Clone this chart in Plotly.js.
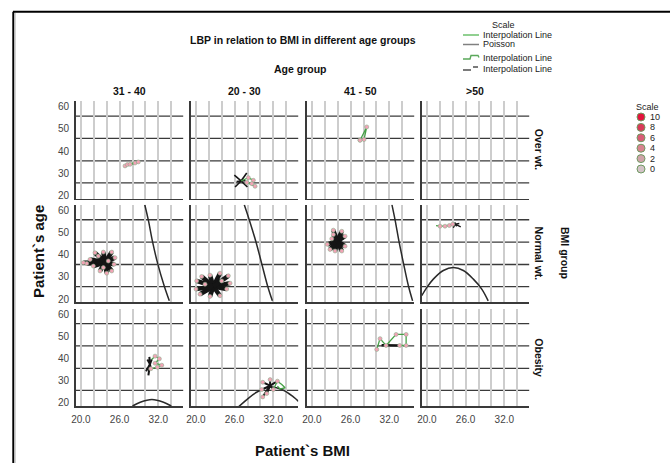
<!DOCTYPE html>
<html><head><meta charset="utf-8">
<script src="https://cdn.plot.ly/plotly-3.0.1.min.js"></script>
<style>html,body{margin:0;padding:0;background:#fff}#chart{width:670px;height:463px}</style>
</head><body><div id="chart"></div>
<script>
// ---------- categories & ticks ----------
const ageGroups = ['31 - 40', '20 - 30', '41 - 50', '>50'];
const bmiGroups = ['Over wt.', 'Normal wt.', 'Obesity'];
const bmiTickVals = [20, 26, 32];
const bmiTickText = ['20.0', '26.0', '32.0'];
const bmiGridVals = [20, 22, 24, 26, 28, 30, 32, 34];
const ageTickVals = [20, 30, 40, 50, 60];
const ageGridVals = [25.6, 35.6, 45.7, 55.8];
const scaleLabels = ['10', '8', '6', '4', '2', '0'];
const lineLegendNames = ['Interpolation Line', 'Poisson', 'Interpolation Line', 'Interpolation Line'];

// ---------- Over wt. ----------
const ow3140Bmi = [26.84, 27.2, 27.62, 28.39, 28.9];
const ow3140Age = [33.3, 33.9, 34.0, 34.6, 35.1];
const ow2030Bmi = [27.0, 25.96, 27.88, 26.07, 27.98, 26.3, 27.7];
const ow2030Age = [26.5, 29.1, 30.1, 23.8, 23.8, 26.2, 26.6];
const ow2030GreenBmi = [27.0, 28.13, 28.9, 28.66, 27.9, 29.17];
const ow2030GreenAge = [26.5, 28.0, 26.8, 25.3, 25.8, 24.1];
const ow4150Bmi = [27.46, 28.5, 28.08, 27.46];
const ow4150Age = [44.9, 50.9, 45.2, 44.9];

// ---------- Normal wt. ----------
const nw3140Bmi = [23.74, 22.19, 23.48, 24.78, 25.29, 25.14, 24.78, 24.0, 22.97, 21.93, 20.9, 20.38, 21.42, 22.7, 24.25, 23.48];
const nw3140Age = [36.6, 40.9, 41.2, 41.2, 38.7, 35.7, 32.7, 31.7, 32.7, 34.9, 36.1, 36.4, 37.9, 39.4, 37.2, 34.2];
const nw2030Bmi = [22.7, 20.13, 20.9, 22.19, 23.74, 25.03, 25.29, 24.78, 23.74, 22.19, 20.64, 20.02, 21.42, 24.0];
const nw2030Age = [25.7, 28.2, 30.2, 30.8, 31.7, 30.5, 27.2, 24.5, 21.5, 21.2, 22.2, 24.5, 26.7, 28.2];
const nw4150Bmi = [23.95, 23.32, 24.63, 25.14, 25.14, 24.63, 23.59, 22.81, 22.39, 23.08, 23.32];
const nw4150Age = [46.1, 51.1, 50.6, 48.4, 43.9, 41.7, 41.7, 42.4, 44.7, 47.2, 49.1];
const nw50Bmi = [24.36, 23.48, 24.0, 24.63, 25.03, 25.25, 24.1, 24.36];
const nw50Age = [53.8, 53.2, 53.8, 52.9, 54.1, 52.6, 52.2, 54.7];
const nw50GreenBmi = [21.42, 22.04, 22.81, 23.48, 24.0];
const nw50GreenAge = [53.2, 52.9, 52.9, 53.2, 53.8];

// ---------- Obesity ----------
const ob3140Bmi = [30.7, 30.61, 30.3, 30.98, 30.1, 30.46, 30.83];
const ob3140Age = [37.5, 40.8, 39.6, 39.6, 34.3, 32.4, 35.4];
const ob3140GreenBmi = [30.98, 31.49, 32.16, 31.49, 32.53, 31.85, 30.83];
const ob3140GreenAge = [39.6, 41.1, 39.9, 37.9, 37.0, 36.1, 35.4];
const ob2030Bmi = [31.5, 30.36, 31.5, 32.63, 30.98, 30.36, 30.2, 32.0];
const ob2030Age = [27.8, 29.3, 30.5, 29.8, 24.2, 22.7, 26.0, 26.0];
const ob2030GreenBmi = [32.0, 32.63, 33.31, 33.82, 33.04, 32.63];
const ob2030GreenAge = [26.0, 29.8, 28.3, 26.8, 26.3, 27.5];
const ob4150Bmi = [30.05, 30.56, 31.49, 33.04, 34.6, 34.6, 33.6];
const ob4150Age = [44.1, 49.0, 45.9, 50.9, 50.9, 45.9, 45.9];
const ob4150BlackBmi = [30.8, 33.6];
const ob4150BlackAge = [46.0, 45.9];

// ---------- Poisson fit curves ----------
const pNw3140Bmi = [29.9, 30.46, 31.1, 31.9, 32.9, 33.7];
const pNw2030Bmi = [27.5, 28.3, 29.3, 30.2, 31.1, 31.85];
const pNw4150Bmi = [32.4, 32.9, 33.5, 34.2, 34.95, 35.6];
const pNwDescAge = [62.6, 55.5, 45.9, 36.0, 26.0, 19.2];
const pNw50Bmi = [19.2, 19.98, 21.0, 22.55, 24.1, 25.65, 27.2, 28.5, 29.5];
const pNw50Age = [21.5, 25.2, 29.0, 32.9, 34.2, 32.9, 29.0, 24.5, 19.2];
const pOb3140Bmi = [28.0, 29.2, 31.0, 32.8, 34.0];
const pOb3140Age = [18.6, 20.3, 21.5, 20.3, 18.6];
const pOb2030Bmi = [26.6, 27.9, 29.4, 31.5, 33.55, 35.1, 35.9];
const pOb2030Age = [18.2, 21.5, 24.8, 27.2, 25.7, 22.7, 20.7];

// ---------- styles ----------
const W = 670, H = 463;
const FONT = 'Liberation Sans, Arial, sans-serif';
const colLeft = [75.7, 190.7, 306.7, 421.7], panelW = 107.5;
const rowTop = [101, 204.7, 308.5], panelH = 97.7;
const GREEN = '#45a045', BLACK = '#151515', PINK = '#f2a3b6';
const scaleColors = ['#e3133d', '#d93a59', '#d95c76', '#d8838f', '#cfa3a9', '#d3c3c7'];
const fx = v => v / W, fy = v => 1 - v / H;

const panels = [
  {r:0, c:0, green:[ow3140Bmi, ow3140Age], pts:[ow3140Bmi, ow3140Age], gw:2.2},
  {r:0, c:1, star:[ow2030Bmi, ow2030Age], green:[ow2030GreenBmi, ow2030GreenAge], pts:[ow2030GreenBmi, ow2030GreenAge], sw:1.6},
  {r:0, c:2, green:[ow4150Bmi, ow4150Age], pts:[ow4150Bmi, ow4150Age]},
  {r:0, c:3},
  {r:1, c:0, star:[nw3140Bmi, nw3140Age], pts:[nw3140Bmi, nw3140Age], poisson:[pNw3140Bmi, pNwDescAge], sw:4.5},
  {r:1, c:1, star:[nw2030Bmi, nw2030Age], pts:[nw2030Bmi, nw2030Age], poisson:[pNw2030Bmi, pNwDescAge], sw:4.5},
  {r:1, c:2, star:[nw4150Bmi, nw4150Age], pts:[nw4150Bmi, nw4150Age], poisson:[pNw4150Bmi, pNwDescAge], sw:4.5},
  {r:1, c:3, star:[nw50Bmi, nw50Age], green:[nw50GreenBmi, nw50GreenAge], pts:[nw50GreenBmi, nw50GreenAge], poisson:[pNw50Bmi, pNw50Age], sw:1.4},
  {r:2, c:0, star:[ob3140Bmi, ob3140Age], green:[ob3140GreenBmi, ob3140GreenAge], pts:[ob3140GreenBmi, ob3140GreenAge], poisson:[pOb3140Bmi, pOb3140Age], sw:2},
  {r:2, c:1, star:[ob2030Bmi, ob2030Age], green:[ob2030GreenBmi, ob2030GreenAge], pts:[ob2030Bmi, ob2030Age], poisson:[pOb2030Bmi, pOb2030Age], sw:2},
  {r:2, c:2, green:[ob4150Bmi, ob4150Age], black:[ob4150BlackBmi, ob4150BlackAge], pts:[ob4150Bmi, ob4150Age]},
  {r:2, c:3}
];

const traces = [];
const layout = {
  width: W, height: H, margin: {l:0, r:0, t:0, b:0},
  paper_bgcolor: '#fff', plot_bgcolor: 'rgba(0,0,0,0)',
  showlegend: false, font: {family: FONT, color: '#222'},
  annotations: [], shapes: []
};

panels.forEach((p, i) => {
  const n = i + 1, xs = 'x' + n, ys = 'y' + n;
  const xk = 'xaxis' + (n === 1 ? '' : n), yk = 'yaxis' + (n === 1 ? '' : n);
  layout[xk] = {
    domain: [fx(colLeft[p.c]), fx(colLeft[p.c] + panelW)], anchor: ys,
    range: [19.2, 35.85], showline: true, linecolor: '#3a3a3a', linewidth: 1.5,
    zeroline: false, tickmode: 'array', tickvals: bmiTickVals, ticktext: bmiTickText,
    showgrid: true, gridcolor: '#cdcdcd', gridwidth: 2,
    showticklabels: p.r === 2, ticks: '', ticklabelstandoff: 3,
    tickfont: {size: 10, color: '#444', family: FONT},
    minor: {tickmode: 'array', tickvals: bmiGridVals, showgrid: true, gridcolor: '#cdcdcd', gridwidth: 2, ticks: ''},
    fixedrange: true
  };
  layout[yk] = {
    domain: [fy(rowTop[p.r] + panelH), fy(rowTop[p.r])], anchor: xs,
    range: [18.5, 62.6], showline: true, linecolor: '#3a3a3a', linewidth: 1.5,
    zeroline: false, tickmode: 'array', tickvals: ageTickVals, showgrid: false,
    showticklabels: p.c === 0, ticks: '', ticklabelstandoff: 3,
    tickfont: {size: 10, color: '#444', family: FONT},
    fixedrange: true
  };
  // dark horizontal reference lines on the age axis
  ageGridVals.forEach(v => layout.shapes.push({type:'line', layer:'below',
    xref: xs + ' domain', x0: 0, x1: 1, yref: ys, y0: v, y1: v,
    line: {color:'#3a3a3a', width:1.3}}));
  // empty anchor trace so every panel is drawn
  traces.push({type:'scatter', mode:'markers', xaxis:xs, yaxis:ys, x:[null], y:[null], hoverinfo:'skip'});
  if (p.poisson) traces.push({type:'scatter', mode:'lines', xaxis:xs, yaxis:ys,
    x:p.poisson[0], y:p.poisson[1], line:{color:'#2a2a2a', width:1.5, shape:'spline'}, hoverinfo:'skip'});
  if (p.star) {
    const [b, a] = p.star, sx = [], sy = [];
    for (let k = 1; k < b.length; k++) { sx.push(b[0], b[k], null); sy.push(a[0], a[k], null); }
    traces.push({type:'scatter', mode:'lines', xaxis:xs, yaxis:ys, x:sx, y:sy,
      line:{color:BLACK, width:p.sw || 2}, hoverinfo:'skip'});
  }
  if (p.black) traces.push({type:'scatter', mode:'lines', xaxis:xs, yaxis:ys,
    x:p.black[0], y:p.black[1], line:{color:BLACK, width:2.5}, hoverinfo:'skip'});
  if (p.green) traces.push({type:'scatter', mode:'lines', xaxis:xs, yaxis:ys,
    x:p.green[0], y:p.green[1], line:{color:GREEN, width:p.gw || 1.3}, hoverinfo:'skip'});
  if (p.pts) traces.push({type:'scatter', mode:'markers', xaxis:xs, yaxis:ys,
    x:p.pts[0].slice(p.star === undefined ? 0 : 1), y:p.pts[1].slice(p.star === undefined ? 0 : 1),
    marker:{size:4, color:PINK, line:{color:'#8fb08f', width:0.6}}, hoverinfo:'skip'});
});

const A = (text, x, y, o) => layout.annotations.push(Object.assign({
  text, x: fx(x), y: fy(y), xref:'paper', yref:'paper', showarrow:false,
  xanchor:'center', yanchor:'middle', font:{family:FONT, size:10.5, color:'#111', weight:'bold'}
}, o || {}));

A('LBP in relation to BMI in different age groups', 303, 40);
A('Age group', 300, 69);
ageGroups.forEach((g, c) => A(g, colLeft[c] + panelW / 2, 91));
bmiGroups.forEach((g, r) => A(g, 539, rowTop[r] + panelH / 2, {textangle: 90}));
A('BMI group', 565, 253, {textangle: 90});
A('Patient`s age', 38, 252, {textangle: -90, font:{family:FONT, size:15, color:'#111', weight:'bold'}});
A('Patient`s BMI', 302, 450, {font:{family:FONT, size:15, color:'#111', weight:'bold'}});

// top legend (line styles)
const legFont = {family:FONT, size:9, color:'#222'};
A('Scale', 503, 25, {font: legFont});
const legY = [35, 44.5, 57.5, 69];
lineLegendNames.forEach((t, k) => A(t, 481, legY[k], {xanchor:'left', font: legFont}));
const S = (path, color, width) => layout.shapes.push({type:'path', xref:'paper', yref:'paper', path, line:{color, width}});
const P = pts => 'M' + pts.map(q => fx(q[0]) + ',' + fy(q[1])).join(' L');
S(P([[463, 35], [479, 35]]), '#6cc06c', 1.5);
S(P([[463, 44.5], [479, 44.5]]), '#808080', 1.5);
S(P([[463, 59], [470, 59], [471, 55.5], [478, 55.5], [479, 57.5]]), '#5aa85a', 1.4);
S(P([[463, 70], [471, 70]]), '#333', 1.3);
S(P([[473, 67], [478, 67]]), '#333', 1.3);

// right legend (scale colours)
A('Scale', 647, 107, {font: legFont});
scaleLabels.forEach((t, k) => {
  const cy = 117 + k * 10.4;
  layout.shapes.push({type:'circle', xref:'paper', yref:'paper',
    x0: fx(637), x1: fx(645), y0: fy(cy + 4), y1: fy(cy - 4),
    fillcolor: scaleColors[k], line:{color:'#6f9a62', width:1}});
  A(t, 648, cy, {xanchor:'left', font: legFont});
});

// frame
S(P([[13, 11.7], [670, 11.7]]), '#000', 2);
S(P([[13.3, 11.7], [13.3, 463]]), '#000', 2);
S(P([[15.2, 13], [15.2, 463]]), '#c0c0c0', 1);

Plotly.newPlot('chart', traces, layout, {staticPlot: true, displayModeBar: false});
</script></body></html>
